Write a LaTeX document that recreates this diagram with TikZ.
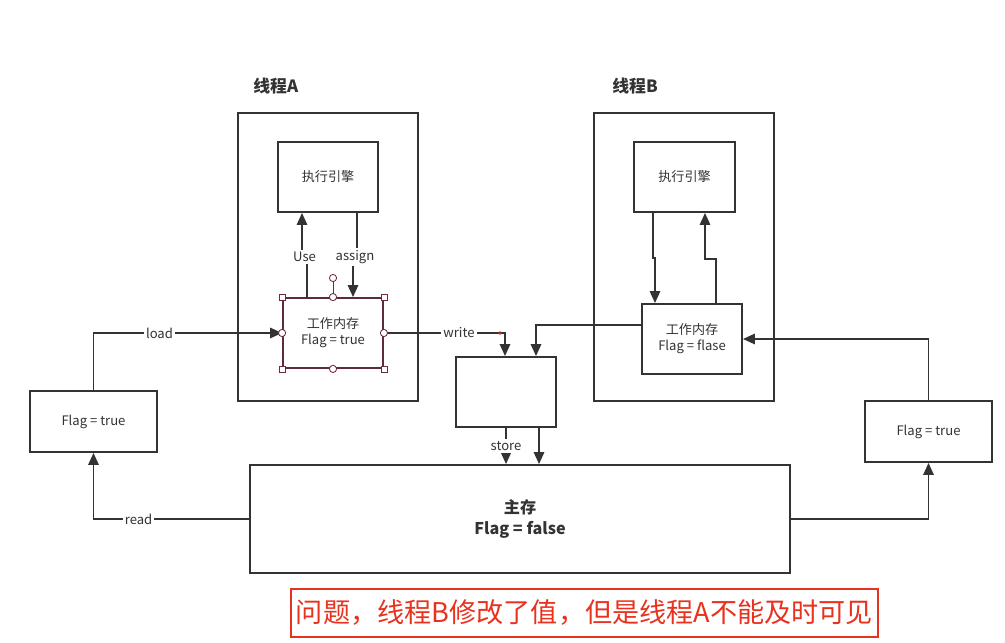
\documentclass[tikz,border=0pt]{standalone}
\usepackage{fontspec}
\setmainfont{Noto Sans CJK SC}
\usetikzlibrary{arrows.meta,calc}
\definecolor{ink}{HTML}{333333}
\definecolor{handle}{HTML}{6E2A3A}
\definecolor{alert}{HTML}{E8321E}

\begin{document}
\begin{tikzpicture}[
  x=0.025cm, y=-0.025cm,
  every node/.style={align=center, text=ink, font=\fontsize{9.3}{11.3}\selectfont, inner sep=0pt},
  box/.style={draw=ink, line width=1.3pt, minimum width=2.5cm, minimum height=1.75cm},
  thread/.style={draw=ink, line width=1.3pt, minimum width=4.5cm, minimum height=7.2cm},
  flagbox/.style={draw=ink, line width=1.3pt, minimum width=3.175cm, minimum height=1.525cm},
  title/.style={anchor=west, font=\fontsize{12}{14}\selectfont\bfseries},
  lbl/.style={fill=white, inner sep=1.5pt},
  arr/.style={draw=ink, line width=1.3pt, -{Triangle[length=3mm,width=2.6mm]}},
  hsq/.style={draw=handle, fill=white, line width=0.6pt, minimum size=0.15cm},
  hci/.style={draw=handle, fill=white, line width=0.6pt, circle, minimum size=0.18cm},
  >=Stealth
]
\useasboundingbox (0,0) rectangle (1005,643);

% threads
\node[thread] (thA) at (328,257) {};
\node[title] (tA) at (253,86) {线程A};
\node[box] (exA) at (328,177) {执行引擎};
\node[box, draw=handle!70!ink] (wmA) at (333,333) {工作内存\\Flag = true};

\node[thread] (thB) at (684,257) {};
\node[title] (tB) at (612,86) {线程B};
\node[box, minimum width=2.525cm] (exB) at (684.5,177) {执行引擎};
\node[box] (wmB) at (692,339) {工作内存\\Flag = flase};

% memory and copies
\node[box] (mid) at (506,392) {};
\node[draw=ink, line width=1.3pt, minimum width=13.5cm, minimum height=2.7cm,
      font=\fontsize{11.5}{14.5}\selectfont\bfseries] (main) at (520,519) {主存\\Flag = false};
\node[flagbox] (flagL) at (93.5,421.5) {Flag = true};
\node[flagbox] (flagR) at (928.5,431.5) {Flag = true};

\node[draw=alert, line width=1pt, minimum width=14.675cm, minimum height=1.2cm,
      text=alert, font=\fontsize{19.3}{22}\selectfont] (note) at (584.5,613) {问题，线程B修改了值，但是线程A不能及时可见};

% thread A
\coordinate (useJ) at (304.5,257);
\coordinate (asgJ) at (355,257);
\draw[arr] ([xshift=-0.65cm]wmA.north) |- (useJ) -| ([xshift=-0.65cm]exA.south);
\node[lbl] (use) at (useJ) {Use};
\draw[arr] ([xshift=0.725cm]exA.south) |- (asgJ) -| ([xshift=0.5cm]wmA.north);
\node[lbl] (asg) at (asgJ) {assign};

% thread B
\coordinate (bj1) at (654,258);
\coordinate (bj2) at (705,259);
\draw[arr] ([xshift=-0.7875cm]exB.south) |- (bj1) -| ([xshift=-0.925cm]wmB.north);
\draw[arr] ([xshift=0.6cm]wmB.north) |- (bj2) -- ([xshift=0.5125cm]exB.south);

% load / read
\draw[arr] (flagL.north) |- node[lbl, pos=0.675] {load} (wmA.west);
\draw[arr] (main.west) -| node[lbl, pos=0.355] {read} (flagL.south);

% write / store
\draw[arr] (wmA.east) -| node[lbl, pos=0.31] {write} ([xshift=-0.025cm]mid.north);
\draw[arr] ([yshift=0.35cm]wmB.west) -| ([xshift=0.75cm]mid.north);
\draw[arr] (mid.south) -- node[lbl] {store} (mid.south |- main.north);
\draw[arr] ([xshift=0.825cm]mid.south) -- ([xshift=0.825cm]mid.south |- main.north);

% right side
\draw[arr] (main.east) -| (flagR.south);
\draw[arr] (flagR.north) |- (wmB.east);

% selection handles
\node[hci] (rot) at (333,278) {};
\draw[handle, line width=0.6pt] (rot) -- (wmA.north);
\foreach \a/\n in {north west/1, north east/2, south west/3, south east/4}
  \node[hsq] (hs\n) at (wmA.\a) {};
\foreach \a/\n in {north/1, south/2, west/3, east/4}
  \node[hci] (hc\n) at (wmA.\a) {};
\fill[alert!80!black] (500,333) circle (1.8);
\end{tikzpicture}
\end{document}
